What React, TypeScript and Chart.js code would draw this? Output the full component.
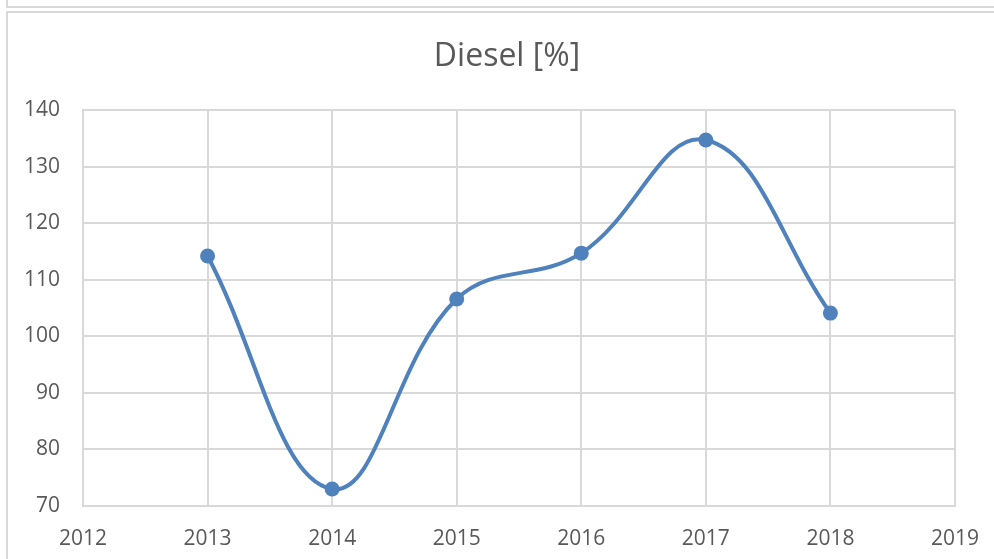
import React, { useEffect, useRef } from "react";
import { Chart, registerables } from "chart.js";

Chart.register(...registerables);

const title = "Diesel [%]";
const years = [2013, 2014, 2015, 2016, 2017, 2018];
const dieselValues = [114.2, 73.0, 106.6, 114.7, 134.7, 104.1];
const xMin = 2012;
const xMax = 2019;
const yMin = 70;
const yMax = 140;
const yStep = 10;

const titlePlugin = {
  id: "offsetTitle",
  afterDraw(chart: any) {
    const ctx = chart.ctx;
    ctx.save();
    ctx.font = "normal 32px 'Open Sans'";
    ctx.fillStyle = "#595959";
    ctx.textAlign = "center";
    ctx.textBaseline = "middle";
    ctx.fillText(title, 507, 57);
    ctx.restore();
  },
};

export default function App() {
  const ref = useRef<HTMLCanvasElement | null>(null);

  useEffect(() => {
    if (!ref.current) return;
    const points = years.map((y, i) => ({ x: y, y: dieselValues[i] }));
    const chart = new Chart(ref.current, {
      type: "line",
      data: {
        datasets: [
          {
            label: title,
            data: points,
            borderColor: "#4f81bd",
            backgroundColor: "#4f81bd",
            borderWidth: 4,
            pointRadius: 7.5,
            pointBorderWidth: 0,
            pointBackgroundColor: "#4f81bd",
            tension: 0.4,
            fill: false,
          },
        ],
      },
      plugins: [titlePlugin],
      options: {
        responsive: false,
        animation: false,
        layout: { padding: { left: 0, right: 39, top: 110, bottom: 0 } },
        plugins: {
          legend: { display: false },
          tooltip: { enabled: false },
          title: { display: false },
        },
        scales: {
          x: {
            type: "linear",
            min: xMin,
            max: xMax,
            grid: { color: "#d9d9d9", lineWidth: 2, drawTicks: false },
            border: { color: "#d9d9d9", width: 2 },
            ticks: {
              stepSize: 1,
              color: "#595959",
              padding: 20,
              font: { family: "'Open Sans'", size: 21 },
              callback: (v: any) => String(v),
            },
            afterFit: (s: any) => {
              s.height = 53;
              s.paddingLeft = 0;
              s.paddingRight = 0;
            },
          },
          y: {
            min: yMin,
            max: yMax,
            grid: { color: "#d9d9d9", lineWidth: 2, drawTicks: false },
            border: { color: "#d9d9d9", width: 2 },
            ticks: {
              stepSize: yStep,
              color: "#595959",
              padding: 23,
              font: { family: "'Open Sans'", size: 21 },
            },
            afterFit: (s: any) => {
              s.width = 83;
              s.paddingTop = 0;
              s.paddingBottom = 0;
            },
          },
        },
      },
    });
    return () => chart.destroy();
  }, []);

  return (
    <div style={{ position: "absolute", left: 0, top: 0, width: 994, height: 559, overflow: "hidden", background: "#fff" }}>
      <canvas ref={ref} width={994} height={559} style={{ position: "absolute", left: 0, top: 0, width: 994, height: 559 }} />
      <div style={{ position: "absolute", left: 6, top: 0, width: 2, height: 8, background: "#d9d9d9" }} />
      <div style={{ position: "absolute", left: 6, top: 6, width: 988, height: 2, background: "#d9d9d9" }} />
      <div style={{ position: "absolute", left: 6, top: 11, width: 988, height: 2, background: "#d9d9d9" }} />
      <div style={{ position: "absolute", left: 6, top: 11, width: 2, height: 548, background: "#d9d9d9" }} />
    </div>
  );
}
